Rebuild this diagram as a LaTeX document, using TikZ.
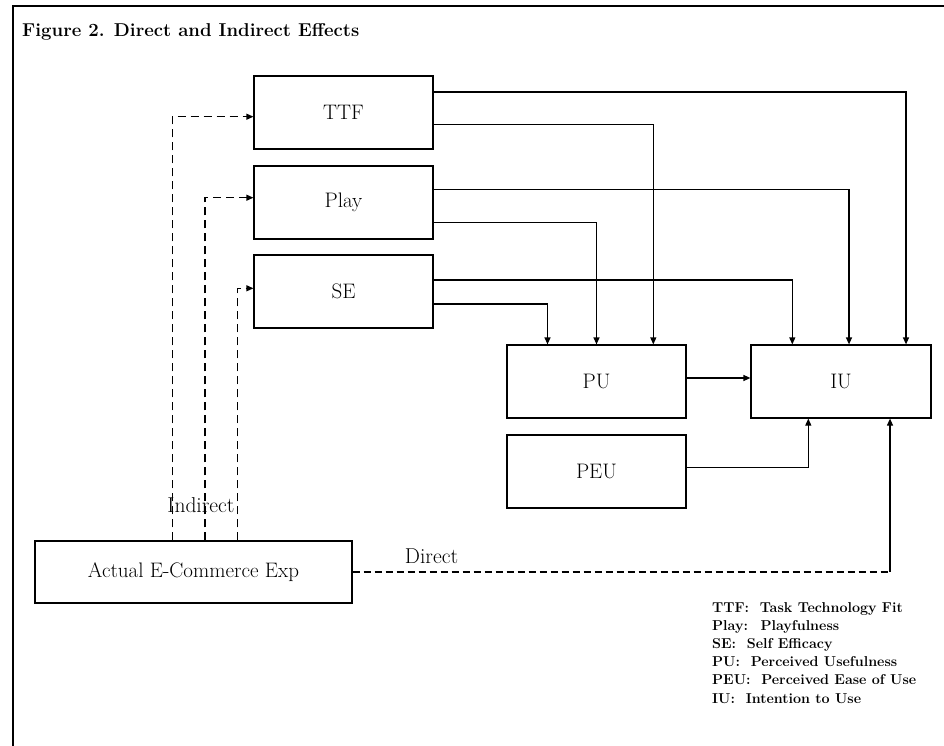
\documentclass[tikz,border=0pt]{standalone}
\usepackage{fontspec}
\usetikzlibrary{arrows.meta}
\begin{document}
\begin{tikzpicture}[x=1pt,y=-1pt,
  box/.style={draw, line width=1.2pt, minimum width=179pt, minimum height=73pt, inner sep=0pt, font=\fontsize{21}{25}\selectfont},
  conn/.style={line width=1.2pt, -{Triangle[length=7pt,width=6pt]}},
  dconn/.style={conn, dash pattern=on 8pt off 5pt},
  lbl/.style={inner sep=0pt, font=\fontsize{21.5}{25}\selectfont},
  legend/.style={anchor=base west, inner sep=0pt, font=\bfseries\fontsize{14.3}{17}\selectfont}]
\useasboundingbox (0,0) rectangle (944,746);
% frame
\draw[line width=2pt] (12.5,746) -- (12.5,6.5) -- (944,6.5);
% title
\node[anchor=base west, inner sep=0pt, font=\bfseries\fontsize{18.6}{22}\selectfont] (title) at (22,37) {Figure 2. Direct and Indirect Effects};
% boxes
\node[box] (TTF) at (343.5,112.5) {TTF};
\node[box] (Play) at (343.5,202.5) {Play};
\node[box] (SE) at (343.5,291.5) {SE};
\node[box] (PU) at (596.5,381.5) {PU};
\node[box, minimum width=180pt] (IU) at (841,381.5) {IU};
\node[box] (PEU) at (596.5,471.5) {PEU};
\node[box, minimum width=317pt, minimum height=62pt] (AE) at (193.5,572) {Actual E-Commerce Exp};
% helper coordinates
\coordinate (t1) at (906,92);
\coordinate (t2) at (653.3,124.3);
\coordinate (p1) at (849,189.3);
\coordinate (p2) at (596.5,222.7);
\coordinate (s1) at (792.3,280);
\coordinate (s2) at (547.5,304);
\coordinate (pu) at (0,378);
\coordinate (pe) at (808.3,467.7);
\coordinate (dr) at (890,572);
\coordinate (i1) at (172.3,116.7);
\coordinate (i2) at (205,197.7);
\coordinate (i3) at (237.7,288.3);
% solid connectors
\draw[conn] (TTF.east |- t1) -| (IU.north -| t1);
\draw[conn] (TTF.east |- t2) -| (PU.north -| t2);
\draw[conn] (Play.east |- p1) -| (IU.north -| p1);
\draw[conn] (Play.east |- p2) -| (PU.north -| p2);
\draw[conn] (SE.east |- s1) -| (IU.north -| s1);
\draw[conn] (SE.east |- s2) -| (PU.north -| s2);
\draw[conn] (PU.east |- pu) -- (IU.west |- pu);
\draw[conn] (PEU.east |- pe) -| (IU.south -| pe);
% direct
\draw[line width=1.2pt, dash pattern=on 7pt off 4pt] (AE.east) -- (dr);
\draw[conn] (dr) -- (IU.south -| dr);
% indirect dashed
\draw[dconn] (AE.north -| i1) |- (TTF.west |- i1);
\draw[dconn] (AE.north -| i2) |- (Play.west |- i2);
\draw[dconn] (AE.north -| i3) |- (SE.west |- i3);
% labels
\node[lbl, anchor=base] (ind) at (201,512.7) {Indirect};
\node[lbl, anchor=base] (dir) at (431.5,563) {Direct};
% legend
\node[legend] (l1) at (712,612) {TTF:~ Task Technology Fit};
\node[legend] (l2) at (712,630.2) {Play:~ Playfulness};
\node[legend] (l3) at (712,648.4) {SE:~ Self Efficacy};
\node[legend] (l4) at (712,666.6) {PU:~ Perceived Usefulness};
\node[legend] (l5) at (712,684.8) {PEU:~ Perceived Ease of Use};
\node[legend] (l6) at (712,703) {IU:~ Intention to Use};
\end{tikzpicture}
\end{document}
